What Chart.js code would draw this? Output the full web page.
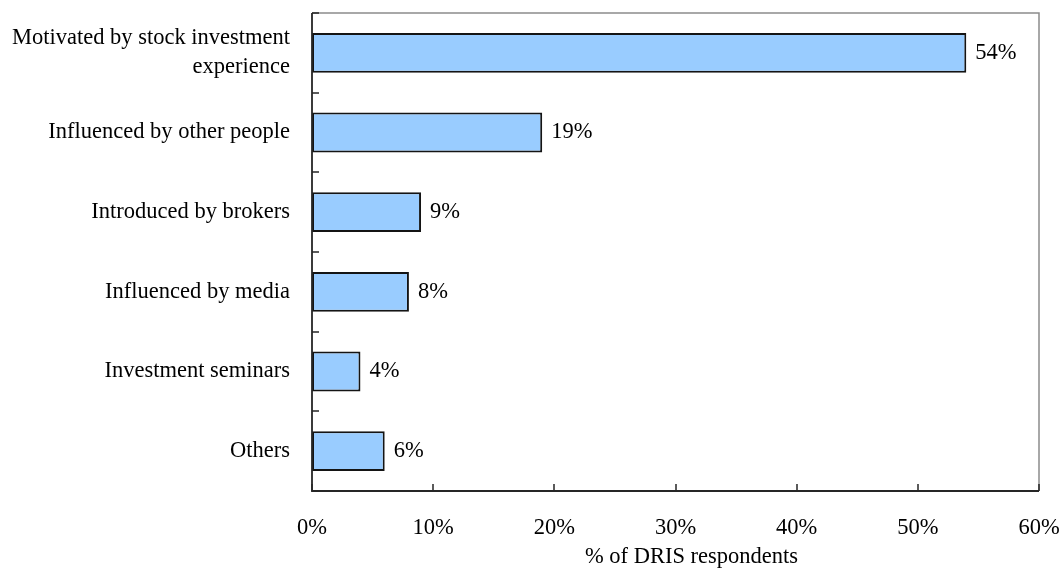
<!DOCTYPE html>
<html>
<head>
<meta charset="utf-8">
<script src="https://cdn.jsdelivr.net/npm/chart.js@4"></script>
<style>
  html, body { margin: 0; padding: 0; background: #ffffff; }
  #wrap { width: 1061px; height: 569px; }
</style>
</head>
<body>
<div id="wrap"><canvas id="chart" width="1061" height="569"></canvas></div>
<script>
// How respondents first got into DRIS investing
const categories = [
  ["Motivated by stock investment", "experience"],
  "Influenced by other people",
  "Introduced by brokers",
  "Influenced by media",
  "Investment seminars",
  "Others"
];
const shares = [54, 19, 9, 8, 4, 6];
const xTickValues = [0, 10, 20, 30, 40, 50, 60];
const axisTitle = "% of DRIS respondents";

const FONT = "'Liberation Serif', 'Times New Roman', serif";
const FONT_SIZE = 22.5;

// Frame, inward tick marks, value labels and axis title
const decorations = {
  id: 'decorations',
  beforeDatasetsDraw(chart) {
    const { ctx, chartArea: a } = chart;
    ctx.save();
    // light top and right edges of the frame
    ctx.strokeStyle = '#8c8c8c';
    ctx.lineWidth = 1.5;
    ctx.beginPath();
    ctx.moveTo(a.left, a.top);
    ctx.lineTo(a.right, a.top);
    ctx.lineTo(a.right, a.bottom);
    ctx.stroke();
    ctx.restore();
  },
  afterDatasetsDraw(chart) {
    const { ctx, chartArea: a, scales } = chart;
    const xs = scales.x, ys = scales.y;
    ctx.save();
    // axis lines
    ctx.strokeStyle = '#262626';
    ctx.lineWidth = 1.8;
    ctx.beginPath();
    ctx.moveTo(a.left, a.top);
    ctx.lineTo(a.left, a.bottom);
    ctx.lineTo(a.right, a.bottom);
    ctx.stroke();
    // inward ticks on the value axis
    ctx.lineWidth = 1.5;
    ctx.beginPath();
    xTickValues.forEach(v => {
      const px = Math.round(xs.getPixelForValue(v));
      ctx.moveTo(px, a.bottom);
      ctx.lineTo(px, a.bottom - 7);
    });
    // inward ticks between categories
    const n = categories.length;
    const step = (ys.getPixelForValue(n - 1) - ys.getPixelForValue(0)) / (n - 1);
    for (let i = 0; i <= n; i++) {
      const py = Math.round(ys.getPixelForValue(0) - step / 2 + i * step);
      ctx.moveTo(a.left, py);
      ctx.lineTo(a.left + 7, py);
    }
    ctx.stroke();

    // value labels
    ctx.fillStyle = '#000000';
    ctx.font = FONT_SIZE + 'px ' + FONT;
    ctx.textAlign = 'left';
    ctx.textBaseline = 'middle';
    chart.getDatasetMeta(0).data.forEach((bar, i) => {
      ctx.fillText(shares[i] + '%', bar.x + 9, bar.y);
    });

    // axis title
    ctx.textAlign = 'center';
    ctx.textBaseline = 'alphabetic';
    ctx.fillText(axisTitle, (a.left + a.right) / 2 + 16, 563);
    ctx.restore();
  }
};

new Chart(document.getElementById('chart'), {
  type: 'bar',
  data: {
    labels: categories,
    datasets: [{
      data: shares,
      backgroundColor: '#99ccff',
      borderColor: '#141414',
      borderWidth: 2,
      borderSkipped: false,
      categoryPercentage: 1.0,
      barPercentage: 0.5
    }]
  },
  options: {
    indexAxis: 'y',
    responsive: false,
    animation: false,
    devicePixelRatio: 1,
    layout: { padding: { top: 13, right: 22, left: 0, bottom: 0 } },
    plugins: {
      legend: { display: false },
      tooltip: { enabled: false },
      title: { display: false }
    },
    scales: {
      x: {
        min: 0,
        max: 60,
        afterBuildTicks(scale) {
          scale.ticks = xTickValues.map(v => ({ value: v }));
        },
        afterFit(scale) {
          scale.height = 78;
          scale.paddingLeft = 0;
          scale.paddingRight = 0;
        },
        border: { display: false },
        grid: { display: false, drawTicks: false },
        ticks: {
          padding: 24,
          color: '#000000',
          font: { family: FONT, size: FONT_SIZE },
          maxRotation: 0,
          callback: v => v + '%'
        }
      },
      y: {
        afterFit(scale) {
          scale.width = 312;
          scale.paddingTop = 0;
          scale.paddingBottom = 0;
        },
        border: { display: false },
        grid: { display: false, drawTicks: false },
        ticks: {
          padding: 22,
          color: '#000000',
          font: { family: FONT, size: FONT_SIZE, lineHeight: 1.3 }
        }
      }
    }
  },
  plugins: [decorations]
});
</script>
</body>
</html>
